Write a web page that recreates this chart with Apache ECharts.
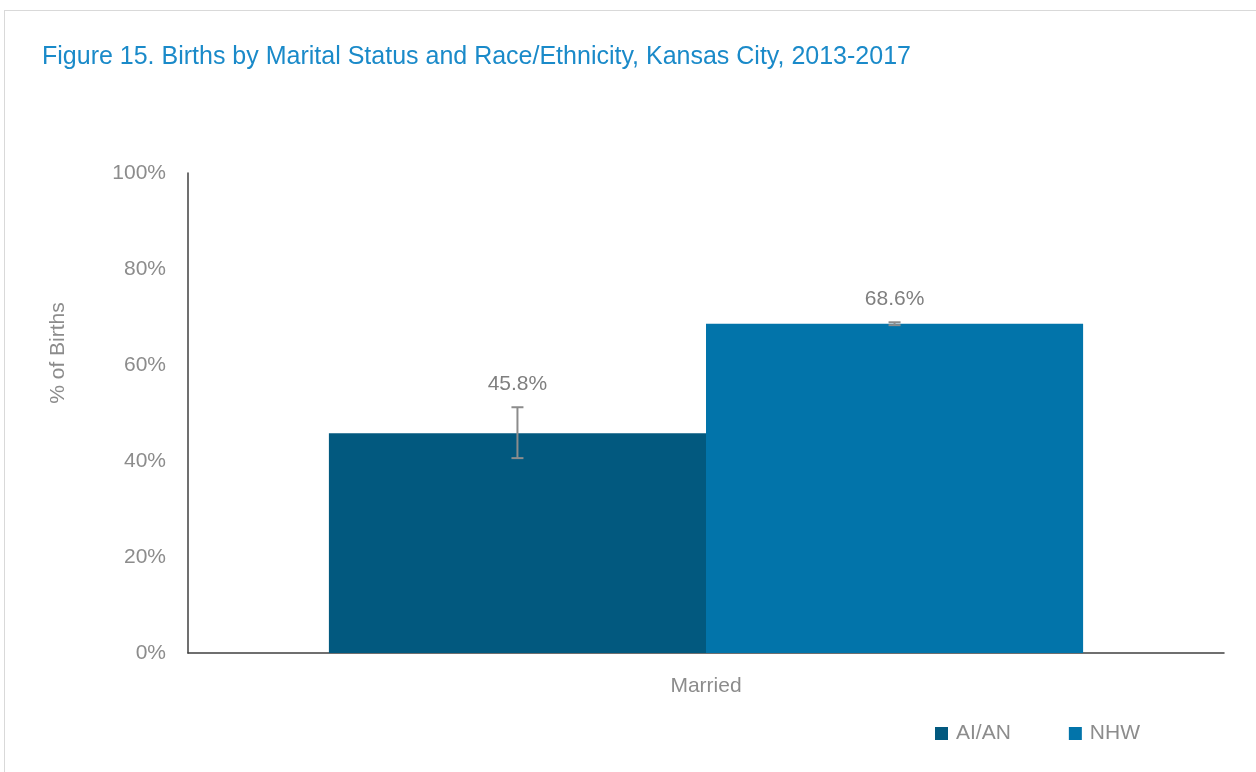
<!DOCTYPE html>
<html>
<head>
<meta charset="utf-8">
<script src="https://cdn.jsdelivr.net/npm/echarts@6/dist/echarts.min.js"></script>
<style>
  html, body { margin: 0; padding: 0; background: #fff; }
  #frame { position: absolute; left: 4px; top: 10px; width: 1260px; height: 770px; border: 1px solid #d9d9d9; box-sizing: border-box; }
  #chart { width: 1256px; height: 772px; }
</style>
</head>
<body>
<div id="frame"></div>
<div id="chart"></div>
<script>
// chart data
const categories = ["Married"];
const seriesNames = ["AI/AN", "NHW"];
const seriesColors = ["#02597f", "#0274aa"];
const values = [[45.8], [68.6]];
const errLow = [[40.6], [68.3]];
const errHigh = [[51.2], [68.9]];
const yTicks = [0, 20, 40, 60, 80, 100];

const fontFam = "'Liberation Sans Narrow', 'Arial Narrow', 'Liberation Sans', sans-serif";
const gray = "#8c8c8c";

const chart = echarts.init(document.getElementById("chart"));

const barSeries = seriesNames.map((name, i) => ({
    name: name,
    type: "bar",
    data: values[i],
    itemStyle: { color: seriesColors[i] },
    barGap: "0%",
    barCategoryGap: "27.2%",
    z: 2,
}));

// error bars + value labels drawn by a custom series per bar series
const errSeries = seriesNames.map((name, i) => ({
    name: name + "_err",
    type: "custom",
    z: 5,
    data: categories.map((c, k) => [k, errLow[i][k], errHigh[i][k], values[i][k]]),
    renderItem: (params, api) => {
        const k = api.value(0);
        const lo = api.coord([k, api.value(1)]);
        const hi = api.coord([k, api.value(2)]);
        const bandW = api.size([1, 0])[0];
        const barW = bandW * (1 - 0.272) / 2;
        const x = lo[0] + (i === 0 ? -barW / 2 : barW / 2);
        const cap = 6;
        const style = { stroke: "#8c8c8c", lineWidth: 2 };
        return {
            type: "group",
            children: [
                { type: "line", shape: { x1: x, y1: lo[1], x2: x, y2: hi[1] }, style: style },
                { type: "line", shape: { x1: x - cap, y1: lo[1], x2: x + cap, y2: lo[1] }, style: style },
                { type: "line", shape: { x1: x - cap, y1: hi[1], x2: x + cap, y2: hi[1] }, style: style },
                {
                    type: "text",
                    x: x,
                    y: hi[1] - 13,
                    style: {
                        text: api.value(3).toFixed(1) + "%",
                        align: "center",
                        verticalAlign: "bottom",
                        fill: "#7f7f7f",
                        font: "21px " + fontFam,
                    },
                },
            ],
        };
    },
}));

chart.setOption({
    animation: false,
    title: {
        text: "Figure 15. Births by Marital Status and Race/Ethnicity, Kansas City, 2013-2017",
        left: 37,
        top: 40,
        textStyle: { color: "#1a8ac9", fontFamily: fontFam, fontSize: 25, fontWeight: "normal" },
    },
    legend: {
        data: seriesNames,
        left: 930,
        top: 718,
        itemWidth: 13,
        itemHeight: 13,
        itemGap: 58,
        icon: "rect",
        textStyle: { color: gray, fontFamily: fontFam, fontSize: 21, padding: [0, 0, 0, 3] },
    },
    grid: { left: 188, right: 32, top: 173, bottom: 119, containLabel: false },
    xAxis: {
        type: "category",
        data: categories,
        axisLine: { lineStyle: { color: "#404040", width: 1.5 } },
        axisTick: { show: false },
        axisLabel: { color: gray, fontFamily: fontFam, fontSize: 21, margin: 23 },
    },
    yAxis: {
        type: "value",
        min: yTicks[0],
        max: yTicks[yTicks.length - 1],
        interval: yTicks[1] - yTicks[0],
        axisLine: { show: true, lineStyle: { color: "#404040", width: 1.5 } },
        axisTick: { show: false },
        splitLine: { show: false },
        axisLabel: { color: gray, fontFamily: fontFam, fontSize: 21, margin: 22, formatter: "{value}%" },
    },
    graphic: [{
        type: "text",
        x: 58,
        y: 353,
        rotation: Math.PI / 2,
        style: {
            text: "% of Births",
            fill: gray,
            font: "21px " + fontFam,
            align: "center",
            verticalAlign: "middle",
        },
    }],
    series: [...barSeries, ...errSeries],
});
</script>
</body>
</html>
